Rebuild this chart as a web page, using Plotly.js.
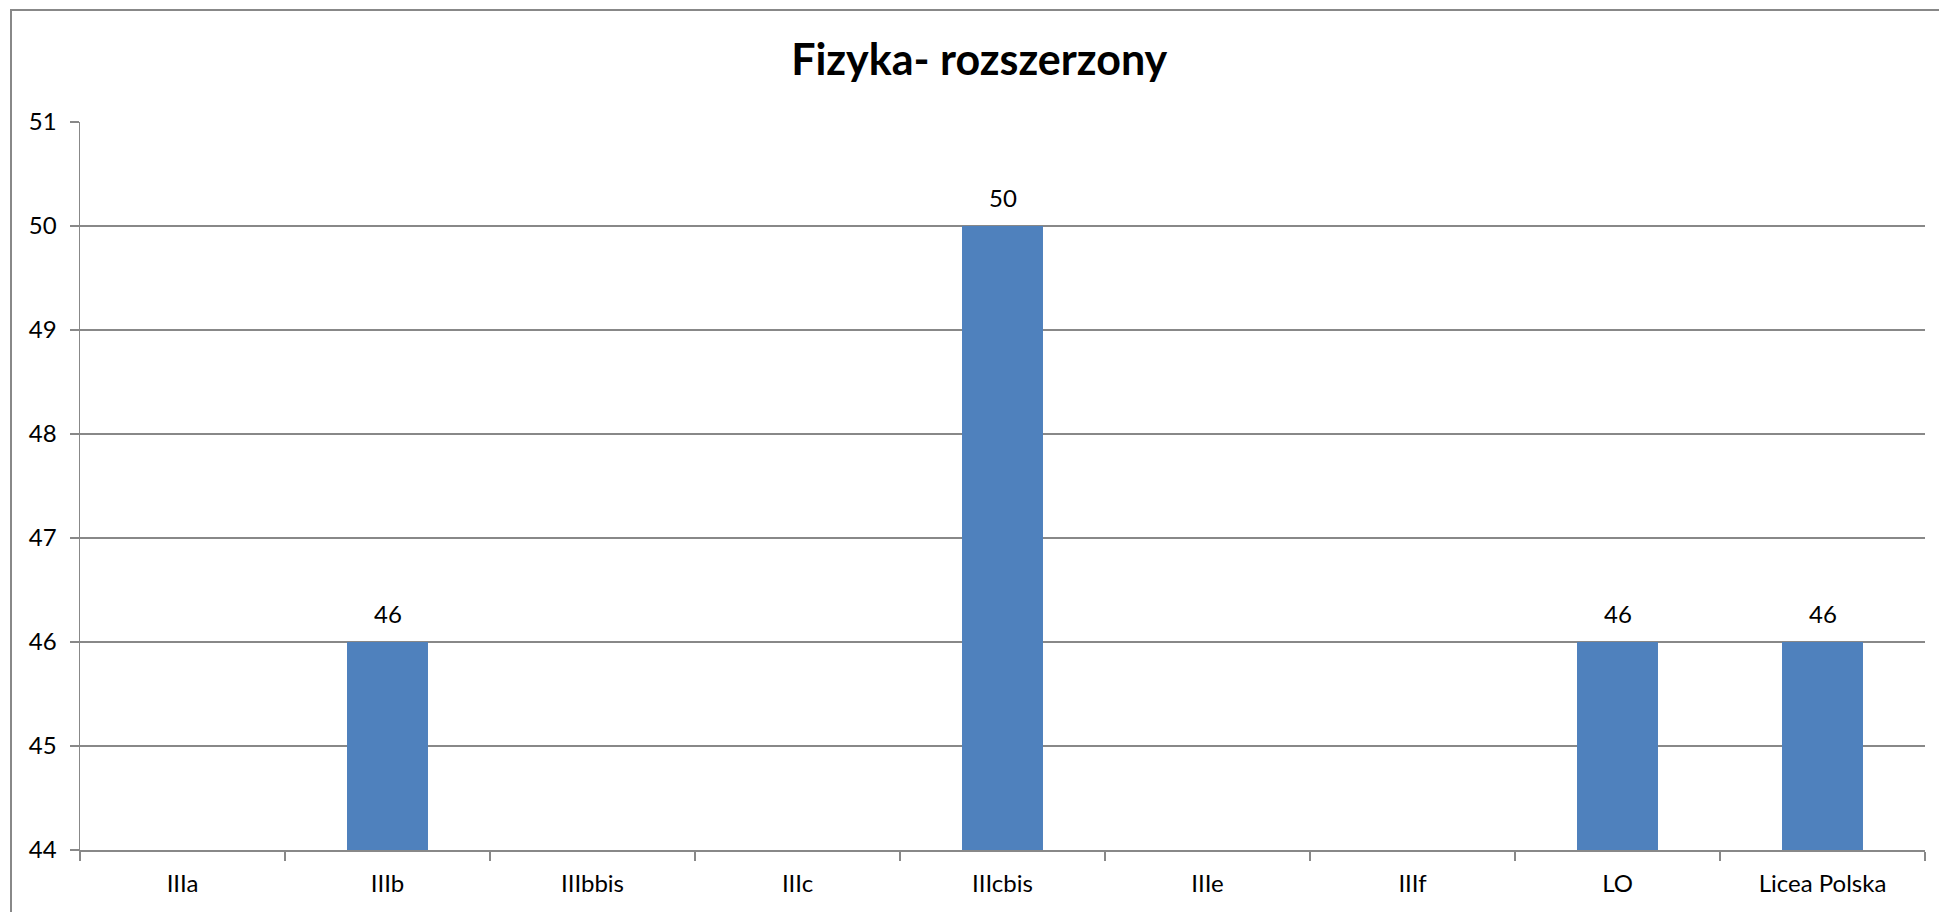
<!DOCTYPE html>
<html>
<head>
<meta charset="utf-8">
<script src="https://cdn.plot.ly/plotly-3.0.1.min.js"></script>
<style>
html,body{margin:0;padding:0;background:#fff;overflow:hidden;}
#chart{position:absolute;left:0;top:0;width:1939px;height:912px;}
#frame{position:absolute;left:10px;top:9px;width:1940px;height:920px;border:2px solid #888;box-sizing:border-box;pointer-events:none;}
</style>
</head>
<body>
<div id="chart"></div>
<div id="frame"></div>
<script>
var categories = ["IIIa","IIIb","IIIbbis","IIIc","IIIcbis","IIIe","IIIf","LO","Licea Polska"];
var values = [null,46,null,null,50,null,null,46,46];
var yTicks = [44,45,46,47,48,49,50,51];

var trace = {
  type:"bar",
  x:categories,
  y:values,
  marker:{color:"#4f81bd"},
  hoverinfo:"x+y"
};

var annotations = [];
categories.forEach(function(c,i){
  if(values[i]===null) return;
  annotations.push({x:c,y:values[i],xref:"x",yref:"y",text:String(values[i]),showarrow:false,
    yanchor:"bottom",yshift:12,font:{family:"Lato, sans-serif",size:24,color:"#000"}});
});

var layout = {
  width:1939,height:912,
  margin:{l:80,r:14,t:122,b:62,pad:0},
  paper_bgcolor:"#fff",plot_bgcolor:"#fff",
  showlegend:false,
  bargap:0.605,
  annotations:annotations,
  title:{text:"<b>Fizyka- rozszerzony</b>",x:0.505,xanchor:"center",y:0.934,yanchor:"middle",
         font:{family:"Lato, sans-serif",size:43,color:"#000"}},
  xaxis:{type:"category",categoryarray:categories,tickson:"boundaries",ticks:"outside",ticklen:9,tickwidth:1.5,tickcolor:"#888",
         showline:true,linecolor:"#888",linewidth:1.5,showgrid:false,
         tickfont:{family:"Lato, sans-serif",size:24,color:"#000"},ticklabelstandoff:12},
  yaxis:{range:[44,51],autorange:false,tickvals:yTicks,ticktext:yTicks.map(String),
         ticks:"outside",ticklen:9,tickwidth:1.5,tickcolor:"#888",
         showline:true,linecolor:"#888",linewidth:1.5,showgrid:true,gridcolor:"#888",gridwidth:1.5,zeroline:false,
         tickfont:{family:"Lato, sans-serif",size:24,color:"#000"},ticklabelstandoff:8}
};

Plotly.newPlot("chart",[trace],layout,{displayModeBar:false,staticPlot:true});
</script>
</body>
</html>
